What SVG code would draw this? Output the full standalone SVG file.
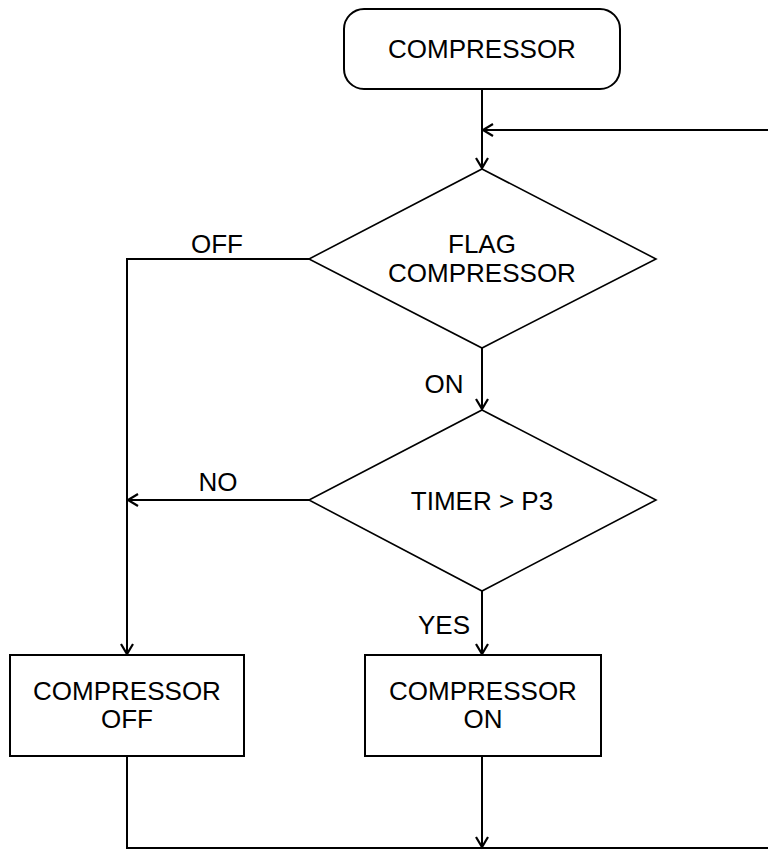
<svg xmlns="http://www.w3.org/2000/svg" width="768" height="850" viewBox="0 0 768 850">
<style>
  .shape { fill: #ffffff; stroke: #000000; stroke-width: 2; }
  .dia { fill: #ffffff; stroke: #000000; stroke-width: 1.6; }
  .conn { fill: none; stroke: #000000; stroke-width: 2; }
  text { font-family: "Liberation Sans", Arial, sans-serif; font-size: 26px; fill: #000000; text-anchor: middle; }
</style>
<defs>
  <marker id="arrow" markerUnits="userSpaceOnUse" markerWidth="16" markerHeight="16" viewBox="-12 -8 14 16" refX="0" refY="0" orient="auto">
    <path d="M -10 -6 L 0 0 L -10 6" fill="none" stroke="#000000" stroke-width="2.2"/>
  </marker>
</defs>
<rect width="768" height="850" fill="#ffffff"/>
<g id="connectors">
  <line class="conn" x1="482" y1="89" x2="482" y2="168" marker-end="url(#arrow)"/>
  <line class="conn" x1="768" y1="130" x2="483" y2="130" marker-end="url(#arrow)"/>
  <polyline class="conn" points="309,259 127,259 127,654" marker-end="url(#arrow)"/>
  <line class="conn" x1="482" y1="348" x2="482" y2="409" marker-end="url(#arrow)"/>
  <line class="conn" x1="309" y1="500" x2="128" y2="500" marker-end="url(#arrow)"/>
  <line class="conn" x1="482" y1="591" x2="482" y2="654" marker-end="url(#arrow)"/>
  <polyline class="conn" points="127,757 127,848 768,848"/>
  <line class="conn" x1="482" y1="757" x2="482" y2="847" marker-end="url(#arrow)"/>
  <text x="217" y="253">OFF</text>
  <text x="444" y="393">ON</text>
  <text x="218" y="491">NO</text>
  <text x="444" y="634">YES</text>
</g>
<g id="start">
  <rect class="shape" x="344" y="9" width="276" height="80" rx="20" ry="20"/>
  <text x="482" y="58">COMPRESSOR</text>
</g>
<g id="flag">
  <polygon class="dia" points="482,169 656,259 482,348 309,259"/>
  <text x="482" y="253">FLAG</text>
  <text x="482" y="282">COMPRESSOR</text>
</g>
<g id="timer">
  <polygon class="dia" points="482,410 656,500 482,591 309,500"/>
  <text x="482" y="510">TIMER &gt; P3</text>
</g>
<g id="off">
  <rect class="shape" x="10" y="655" width="234" height="101"/>
  <text x="127" y="700">COMPRESSOR</text>
  <text x="127" y="728">OFF</text>
</g>
<g id="on">
  <rect class="shape" x="365" y="655" width="236" height="101"/>
  <text x="483" y="700">COMPRESSOR</text>
  <text x="483" y="728">ON</text>
</g>
</svg>
